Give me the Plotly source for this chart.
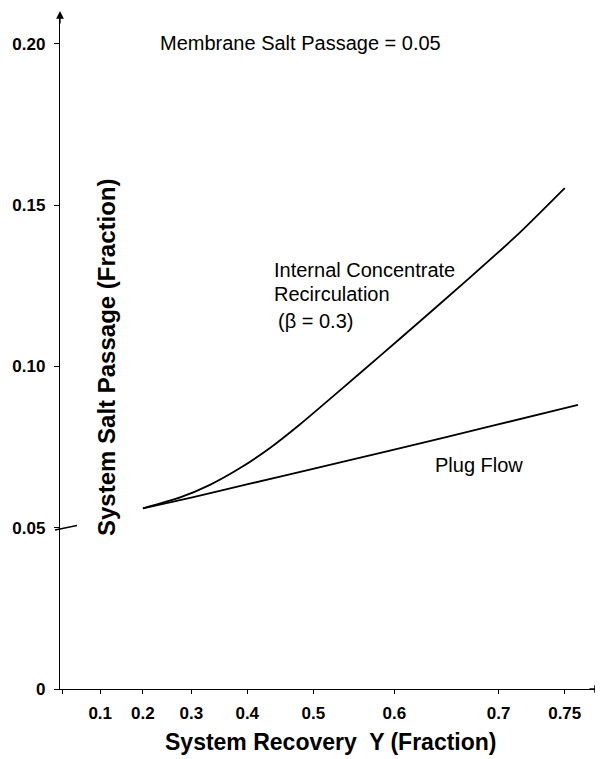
import plotly.graph_objects as go

# values (recovery Y, system salt passage)
plug_recovery = [0.20, 0.304, 0.401, 0.498, 0.594, 0.697, 0.759]
plug_salt = [0.0560, 0.0595, 0.0635, 0.0682, 0.0738, 0.0818, 0.0881]

icr_recovery = [0.20, 0.278, 0.335, 0.388, 0.437, 0.481, 0.535, 0.584, 0.628, 0.676, 0.717, 0.75]
icr_salt = [0.0560, 0.0594, 0.0633, 0.0685, 0.0748, 0.0820, 0.0925, 0.1033, 0.1142, 0.1278, 0.1415, 0.1553]

x_ticks = [0, 0.1, 0.2, 0.3, 0.4, 0.5, 0.6, 0.7, 0.75]
x_labels = ["", "0.1", "0.2", "0.3", "0.4", "0.5", "0.6", "0.7", "0.75"]
y_ticks = [0, 0.05, 0.10, 0.15, 0.20]
y_labels = ["0", "0.05", "0.10", "0.15", "0.20"]

FONT = "Liberation Sans, Arial, sans-serif"

# recovery axis is drawn as a reversed log scale of (1 - Y)
def tox(vals):
    return [1 - v for v in vals]

# page body adds an 8px offset, so the figure is sized to the visible area
W, H = 595, 751
L, R, T, B = 52, 3, 6, 70
pw, ph = W - L - R, H - T - B


# helpers take positions measured on the reference picture
def px(x):
    return (x - 8 - L) / pw


def py(y):
    return (H - B - (y - 8)) / ph


fig = go.Figure()
fig.add_trace(go.Scatter(x=tox(icr_recovery), y=icr_salt, mode="lines",
                         line=dict(color="black", width=1.8, shape="spline", smoothing=0.5),
                         showlegend=False, hoverinfo="skip"))
fig.add_trace(go.Scatter(x=tox(plug_recovery), y=plug_salt, mode="lines",
                         line=dict(color="black", width=1.8, shape="spline", smoothing=0.5),
                         showlegend=False, hoverinfo="skip"))

ann = []
def text(s, x, y, size=20, bold=False, xanchor="center", angle=0):
    ann.append(dict(text="<b>%s</b>" % s if bold else s, x=px(x), y=py(y), xref="paper", yref="paper",
                    showarrow=False, xanchor=xanchor, yanchor="middle", textangle=angle,
                    font=dict(family=FONT, size=size, color="black")))

text("Membrane Salt Passage = 0.05", 300, 43)
text("Internal Concentrate", 272, 270, xanchor="left")
text("Recirculation", 272, 294, xanchor="left")
text("(\u03b2 = 0.3)", 276, 321, xanchor="left")
text("Plug Flow", 433, 465, xanchor="left")
text("System Salt Passage (Fraction)", 106, 358, size=24, bold=True, angle=-90)
text("System Recovery  Y (Fraction)", 331, 742, size=23, bold=True)

# axis arrowheads
ann.append(dict(x=px(60), y=py(11), xref="paper", yref="paper", ax=0, ay=14, text="",
                showarrow=True, arrowhead=2, arrowsize=1.2, arrowwidth=1.3, arrowcolor="black"))
ann.append(dict(x=px(602), y=py(689), xref="paper", yref="paper", ax=-14, ay=0, text="",
                showarrow=True, arrowhead=2, arrowsize=1.2, arrowwidth=1.3, arrowcolor="black"))

fig.update_layout(
    width=W, height=H,
    margin=dict(l=L, r=R, t=T, b=B),
    paper_bgcolor="white", plot_bgcolor="white",
    annotations=ann,
    shapes=[dict(type="line", xref="paper", yref="y", x0=px(55), x1=px(77), y0=0.0493, y1=0.0507,
                 line=dict(color="black", width=1.3))],
    xaxis=dict(type="log", range=[0.0024, -0.6443], tickvals=tox(x_ticks), ticktext=x_labels,
               showline=True, linecolor="black", linewidth=1.3, ticks="outside", ticklen=4,
               tickcolor="black", tickwidth=1, showgrid=False, zeroline=False,
               ticklabelstandoff=4,
               tickfont=dict(family=FONT, size=17, color="black", weight="bold")),
    yaxis=dict(range=[0, 0.2093], tickvals=y_ticks, ticktext=y_labels,
               showline=True, linecolor="black", linewidth=1.3, ticks="outside", ticklen=5,
               tickcolor="black", tickwidth=1, showgrid=False, zeroline=False,
               ticklabelstandoff=5,
               tickfont=dict(family=FONT, size=17, color="black", weight="bold")),
)

fig.write_html("out.html")
